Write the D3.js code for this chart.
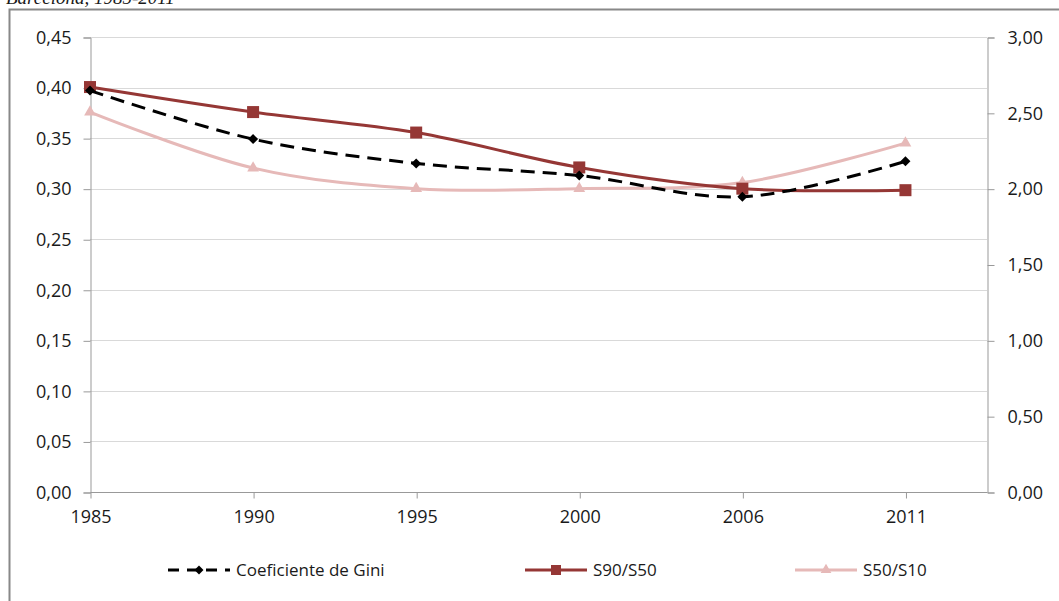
<!DOCTYPE html>
<html>
<head>
<meta charset="utf-8">
<script src="https://cdn.jsdelivr.net/npm/d3@7"></script>
<style>
  body { margin: 0; background: #fff; }
  svg text { font-family: "Open Sans", "Liberation Sans", sans-serif; fill: #1a1a1a; }
</style>
</head>
<body>
<script>
// data
const years = ["1985", "1990", "1995", "2000", "2006", "2011"];
const gini = [0.397, 0.349, 0.325, 0.313, 0.292, 0.327];   // left axis
const s90s50 = [2.67, 2.505, 2.37, 2.14, 2.00, 1.99];       // right axis
const s50s10 = [2.505, 2.136, 2.00, 2.00, 2.04, 2.30];      // right axis
const leftTicks = [0, 0.05, 0.10, 0.15, 0.20, 0.25, 0.30, 0.35, 0.40, 0.45];
const rightTicks = [0, 0.5, 1, 1.5, 2, 2.5, 3];

const W = 1059, H = 601;
const svg = d3.select("body").append("svg").attr("width", W).attr("height", H);

// frame + title (cut off at the top, as in the source)
svg.append("text").attr("x", 6).attr("y", 4)
  .style("font-family", "Liberation Serif, serif").style("font-style", "italic")
  .style("font-size", "19px").text("Barcelona, 1985-2011");
svg.append("path").attr("d", `M9.5,${H} V9.5 H${W}`)
  .attr("fill", "none").attr("stroke", "#888").attr("stroke-width", 2);

const pL = 90, pR = 987, pT = 37, pB = 492;

const x = d3.scaleLinear().domain([0, 5.5]).range([pL, pR]);
const yL = d3.scaleLinear().domain([0, 0.45]).range([pB, pT]);
const yR = d3.scaleLinear().domain([0, 3]).range([pB, pT]);
const fmt = d => d3.format(".2f")(d).replace(".", ",");

// gridlines
svg.append("g").selectAll("line").data(leftTicks.slice(1)).join("line")
  .attr("x1", pL).attr("x2", pR)
  .attr("y1", d => Math.round(yL(d)) + 0.5).attr("y2", d => Math.round(yL(d)) + 0.5)
  .attr("stroke", "#d9d9d9");

// axes
const axL = svg.append("g").attr("transform", `translate(${pL + 0.5},0.5)`)
  .call(d3.axisLeft(yL).tickValues(leftTicks).tickFormat(fmt).tickSize(7).tickPadding(12));
const axR = svg.append("g").attr("transform", `translate(${pR + 0.5},0.5)`)
  .call(d3.axisRight(yR).tickValues(rightTicks).tickFormat(fmt).tickSize(7).tickPadding(13));
const axB = svg.append("g").attr("transform", `translate(0.5,${pB + 0.5})`)
  .call(d3.axisBottom(x).tickValues(d3.range(years.length)).tickFormat(i => years[i]).tickSize(6).tickPadding(12));
axB.select(".domain").attr("d", `M${pL},0H${pR}`);
[axL, axR, axB].forEach(a => {
  a.selectAll(".domain, line").attr("stroke", "#999");
  a.selectAll("text").style("font-size", "18px").attr("fill", "#1a1a1a");
});

const curve = d3.curveCardinal.tension(0);

// S50/S10
const pink = "#e6b9b8";
svg.append("path").datum(s50s10)
  .attr("d", d3.line().x((d, i) => x(i)).y(d => yR(d)).curve(curve))
  .attr("fill", "none").attr("stroke", pink).attr("stroke-width", 3);
svg.append("g").selectAll("path").data(s50s10).join("path")
  .attr("transform", (d, i) => `translate(${x(i)},${yR(d)})`)
  .attr("d", d3.symbol(d3.symbolTriangle, 60)).attr("fill", pink);

// S90/S50
const red = "#953735";
svg.append("path").datum(s90s50)
  .attr("d", d3.line().x((d, i) => x(i)).y(d => yR(d)).curve(curve))
  .attr("fill", "none").attr("stroke", red).attr("stroke-width", 3);
svg.append("g").selectAll("rect").data(s90s50).join("rect")
  .attr("x", (d, i) => x(i) - 6).attr("y", d => yR(d) - 6)
  .attr("width", 12).attr("height", 12).attr("fill", red);

// Gini (diamonds = rotated squares)
svg.append("path").datum(gini)
  .attr("d", d3.line().x((d, i) => x(i)).y(d => yL(d)).curve(curve))
  .attr("fill", "none").attr("stroke", "#000").attr("stroke-width", 3)
  .attr("stroke-dasharray", "14,8");
svg.append("g").selectAll("path").data(gini).join("path")
  .attr("transform", (d, i) => `translate(${x(i)},${yL(d)}) rotate(45)`)
  .attr("d", d3.symbol(d3.symbolSquare, 50)).attr("fill", "#000");

// legend
const legend = [
  { label: "Coeficiente de Gini", x: 168, color: "#000", dash: "11,8", sym: "diamond" },
  { label: "S90/S50", x: 525, color: red, dash: null, sym: "square" },
  { label: "S50/S10", x: 795, color: pink, dash: null, sym: "triangle" }
];
const ly = 570;
const lg = svg.append("g").selectAll("g").data(legend).join("g")
  .attr("transform", d => `translate(${d.x},${ly})`);
lg.append("line").attr("x1", 0).attr("x2", 62)
  .attr("stroke", d => d.color).attr("stroke-width", 3)
  .attr("stroke-dasharray", d => d.dash);
lg.append("path")
  .attr("transform", d => d.sym === "diamond" ? "translate(31,0) rotate(45)" : "translate(31,0)")
  .attr("d", d => d.sym === "diamond" ? d3.symbol(d3.symbolSquare, 40)()
    : d.sym === "square" ? d3.symbol(d3.symbolSquare, 100)() : d3.symbol(d3.symbolTriangle, 50)())
  .attr("fill", d => d.color);
lg.append("text").attr("x", 68).attr("dy", "0.35em")
  .style("font-size", "17px").text(d => d.label);
</script>
</body>
</html>
